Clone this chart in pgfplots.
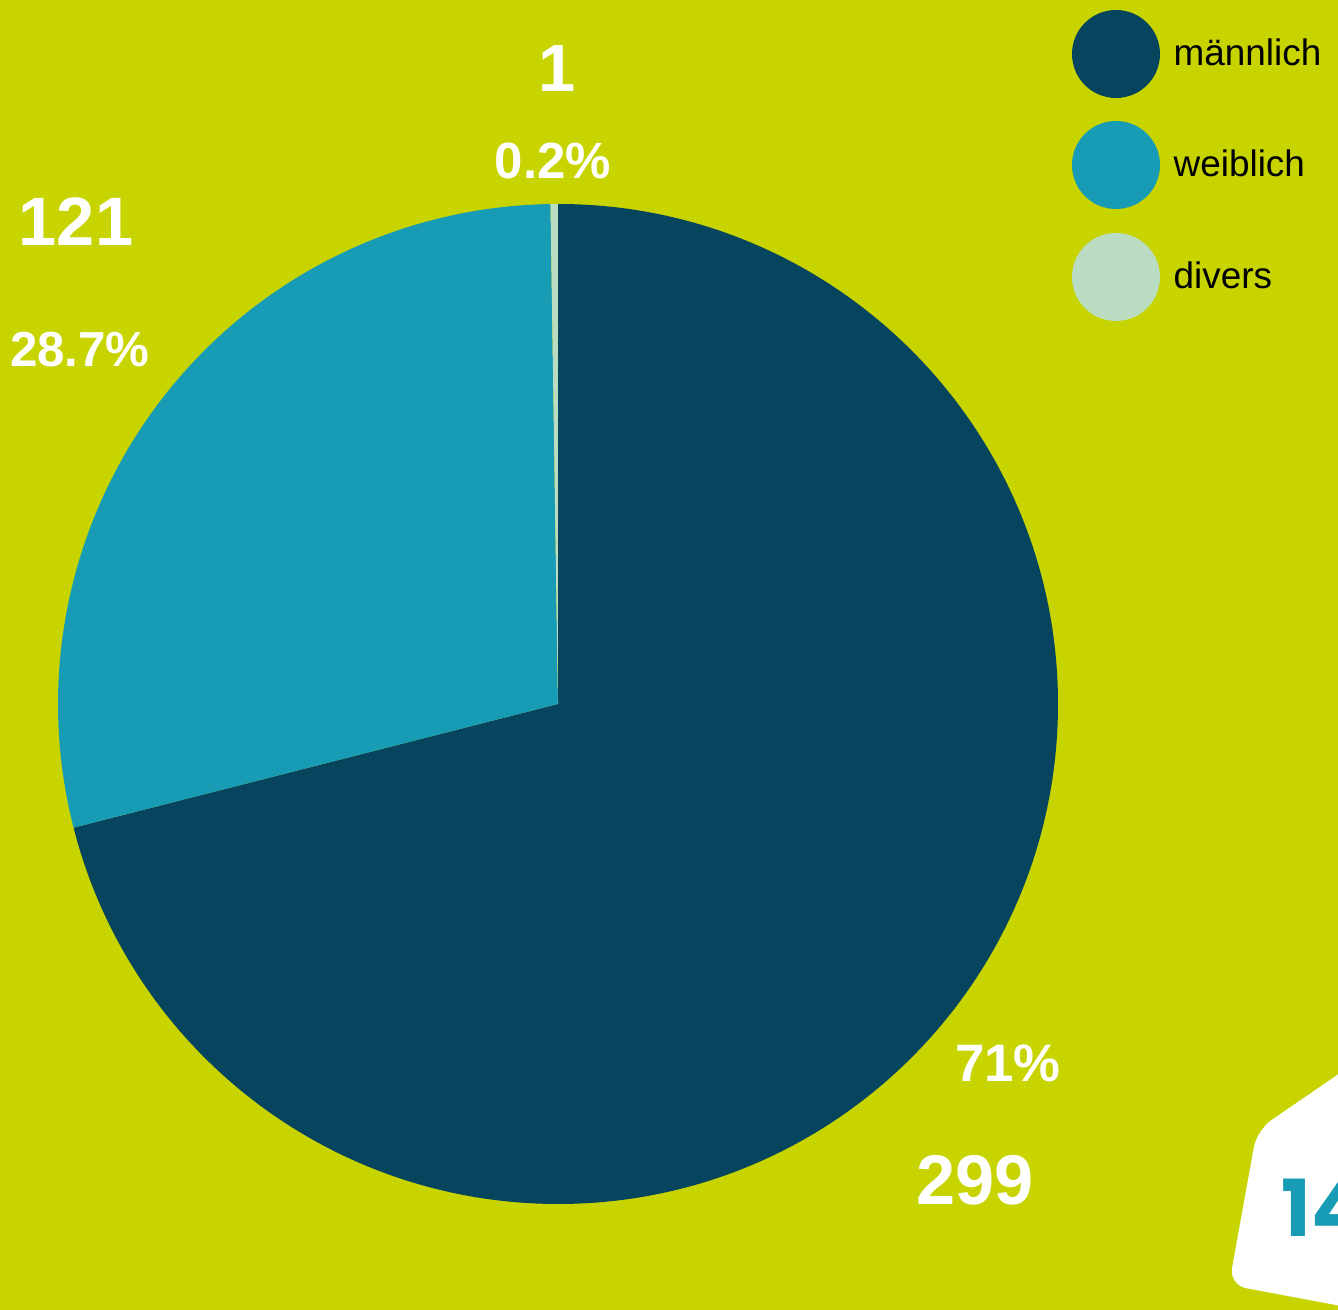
\documentclass[border=0pt]{standalone}
\usepackage{pgfplots}
\pgfplotsset{compat=1.18}
\usepackage{pgfplotstable}
\usepackage{fontspec}
\setmainfont{Liberation Sans}
\newfontfamily\badgefont{Poppins}
\definecolor{bg}{HTML}{C8D400}
\definecolor{cdark}{HTML}{07455E}
\definecolor{cteal}{HTML}{189CB5}
\definecolor{clight}{HTML}{BADCC0}
\pgfplotstableread{
label value
maennlich 299
weiblich 121
divers 1
}\piedata
\begin{document}%
\pgfplotstablegetelem{0}{value}\of\piedata\let\va\pgfplotsretval%
\pgfplotstablegetelem{1}{value}\of\piedata\let\vb\pgfplotsretval%
\pgfplotstablegetelem{2}{value}\of\piedata\let\vc\pgfplotsretval%
\pgfmathsetmacro\total{\va+\vb+\vc}%
\pgfmathsetmacro\aA{90}%
\pgfmathsetmacro\aB{90-360*(\va/\total)}%
\pgfmathsetmacro\aC{\aB-360*(\vb/\total)}%
\pgfmathsetmacro\aD{\aC-360*(\vc/\total)}%
\begin{tikzpicture}
\fill[bg] (0,0) rectangle (13.38cm,13.1cm);
\begin{axis}[at={(0,0)}, anchor=south west, scale only axis,
  width=13.38cm, height=13.1cm, xmin=0, xmax=1338, ymin=0, ymax=1310,
  hide axis, clip=true]
% pie sectors
\fill[cdark] (axis cs:558,606) -- ++(\aA:5cm) arc[start angle=\aA, end angle=\aB, radius=5cm] -- cycle;
\fill[cteal] (axis cs:558,606) -- ++(\aB:5cm) arc[start angle=\aB, end angle=\aC, radius=5cm] -- cycle;
\fill[clight] (axis cs:558,606) -- ++(\aC:5cm) arc[start angle=\aC, end angle=\aD, radius=5cm] -- cycle;
% labels
\node[text=white, font=\fontsize{19pt}{22pt}\selectfont\bfseries] at (axis cs:557,1241) {1};
\node[text=white, font=\fontsize{14.5pt}{18pt}\selectfont\bfseries] at (axis cs:553,1149) {0.2\%};
\node[text=white, font=\fontsize{19.5pt}{22pt}\selectfont\bfseries] at (axis cs:76,1088) {121};
\node[text=white, font=\fontsize{14pt}{17pt}\selectfont\bfseries] at (axis cs:80,960) {28.7\%};
\node[text=white, font=\fontsize{15pt}{19pt}\selectfont\bfseries] at (axis cs:1008,247) {71\%};
\node[text=white, font=\fontsize{20pt}{24pt}\selectfont\bfseries] at (axis cs:975,130) {299};
% legend
\fill[cdark] (axis cs:1116,1256) circle[radius=0.44cm];
\fill[cteal] (axis cs:1116,1145) circle[radius=0.44cm];
\fill[clight] (axis cs:1116,1033) circle[radius=0.44cm];
\node[anchor=base west, inner sep=0pt, font=\fontsize{10.5pt}{13pt}\selectfont] at (axis cs:1173,1244) {männlich};
\node[anchor=base west, inner sep=0pt, font=\fontsize{10.5pt}{13pt}\selectfont] at (axis cs:1173,1133) {weiblich};
\node[anchor=base west, inner sep=0pt, font=\fontsize{10.5pt}{13pt}\selectfont] at (axis cs:1173,1021) {divers};
% badge
\fill[white, rounded corners=5pt] (axis cs:1400,278) -- (axis cs:1257,180) -- (axis cs:1229,25) -- (axis cs:1400,-7) -- cycle;
\node[anchor=base west, inner sep=0pt, text=cteal, font=\badgefont\fontsize{22.4pt}{26pt}\selectfont\bfseries] at (axis cs:1281,73) {14};
\end{axis}
\pgfresetboundingbox
\useasboundingbox (0,0) rectangle (13.38cm,13.1cm);
\end{tikzpicture}%
\end{document}
